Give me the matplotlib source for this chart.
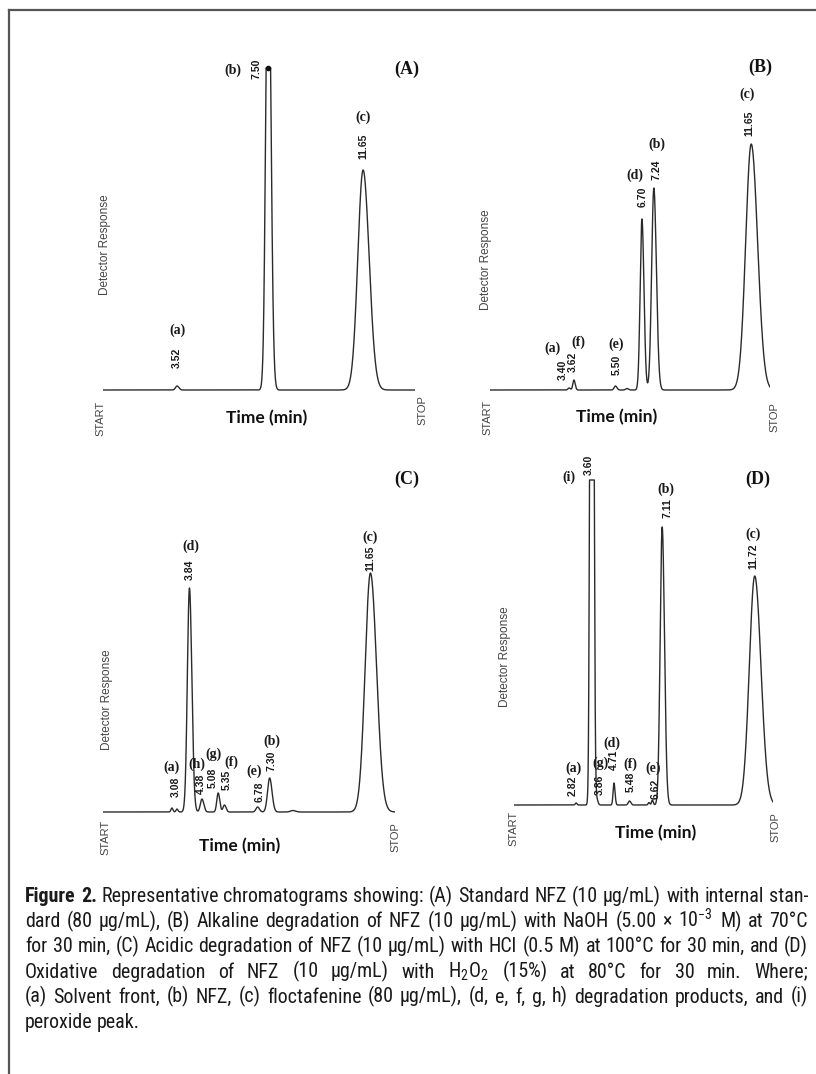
import numpy as np
import matplotlib.pyplot as plt
from matplotlib import font_manager
from matplotlib.lines import Line2D

W_PX, H_PX = 816, 1074

# peak tables
# retention time (min), peak height (detector units), peak width sigma (min)
A_rt = [3.52, 7.50, 11.65]
A_height = [4, 500, 220]
A_sigma = [0.07, 0.10, 0.23]
A_peak = ['(a)', '(b)', '(c)']

B_rt = [3.40, 3.62, 5.50, 6.02, 6.70, 7.24, 11.65]
B_height = [2, 10, 4, 1.5, 171, 202, 246]
B_sigma = [0.05, 0.05, 0.06, 0.06, 0.08, 0.10, 0.25]
B_peak = ['(a)', '(f)', '(e)', '', '(d)', '(b)', '(c)']

C_rt = [3.08, 3.30, 3.84, 4.38, 5.08, 5.35, 6.78, 7.30, 8.30, 11.65]
C_height = [4, 3, 224, 13, 19, 7, 5, 34, 1.5, 239]
C_sigma = [0.04, 0.04, 0.09, 0.07, 0.06, 0.06, 0.07, 0.09, 0.10, 0.23]
C_peak = ['(a)', '', '(d)', '(h)', '(g)', '(f)', '(e)', '(b)', '', '(c)']

D_rt = [2.82, 3.60, 3.86, 4.71, 5.48, 6.45, 6.62, 7.11, 11.72]
D_height = [2, 1500, 5, 22, 4, 2.5, 5, 278, 229]
D_sigma = [0.04, 0.065, 0.05, 0.045, 0.06, 0.04, 0.04, 0.10, 0.27]
D_peak = ['(a)', '(i)', '(g)', '(d)', '(f)', '', '(e)', '(b)', '(c)']

# detector saturation level (flat tops), None = not saturated
A_sat, B_sat, C_sat, D_sat = 322, None, None, 325

# label offsets in pixels from each labelled peak top: (num dx, num dy, letter dx, letter dy)
A_off = [(0, 28, 0, 56), (-12, -1, -35, -2), (0, 24, 0, 53)]
B_off = [(-6, 18, -17, 40), (-1, 18, 4, 38), (1, 21, 1, 42), (1, 22, -7, 44),
         (3, 18, 3, 44), (-2, 21, -4, 50)]
C_off = [(4, 21, 0, 41), (0, 18, 1, 42), (-1, 15, -5, 35), (-5, 15, -5, 39),
         (2, 25, 7, 43), (2, 15, -3, 36), (2, 17, 2, 37), (0, 15, 0, 36)]
D_off = [(-3, 17, -3, 35), (-3, 15, -23, 3), (3, 12, 4, 33), (0, 23, -2, 40),
         (1, 19, 1, 37), (3, 11, 1, 32), (5, 19, 4, 38), (-1.5, 20, -1.5, 42)]

caption_lines = [
    "Figure 2. Representative chromatograms showing: (A) Standard NFZ (10 µg/mL) with internal stan-",
    "dard (80 µg/mL), (B) Alkaline degradation of NFZ (10 µg/mL) with NaOH (5.00 × 10$^{-3}$ M) at 70°C",
    "for 30 min, (C) Acidic degradation of NFZ (10 µg/mL) with HCl (0.5 M) at 100°C for 30 min, and (D)",
    "Oxidative degradation of NFZ (10 µg/mL) with H$_2$O$_2$ (15%) at 80°C for 30 min. Where;",
    "(a) Solvent front, (b) NFZ, (c) floctafenine (80 µg/mL), (d, e, f, g, h) degradation products, and (i)",
    "peroxide peak.",
]

names = {f.name for f in font_manager.fontManager.ttflist}
cap_font = next((f for f in ['Liberation Sans Narrow', 'Roboto Condensed', 'Open Sans Condensed', 'Noto Sans']
                 if f in names), 'DejaVu Sans')
plt.rcParams['mathtext.fontset'] = 'custom'
plt.rcParams['mathtext.rm'] = cap_font
plt.rcParams['mathtext.default'] = 'rm'

fig = plt.figure(figsize=(W_PX / 100, H_PX / 100), dpi=100)


def fx(px):
    return px / W_PX


def fy(py):
    return 1 - py / H_PX


def trace(t, rt, height, sigma, sat):
    y = np.zeros_like(t)
    for r, h, s in zip(rt, height, sigma):
        sd = np.where(t < r, s, s * 1.15)
        y += h * np.exp(-0.5 * ((t - r) / sd) ** 2)
    if sat is not None:
        y = np.minimum(y, sat)
    return y


# panel: data, saturation, label offsets, left px, right px, baseline px, time limits
panels = [
    (A_rt, A_height, A_sigma, A_peak, A_sat, A_off, 103, 415, 390, (0.28, 13.92), '(A)'),
    (B_rt, B_height, B_sigma, B_peak, B_sat, B_off, 490, 770, 390, (-0.18, 12.50), '(B)'),
    (C_rt, C_height, C_sigma, C_peak, C_sat, C_off, 103, 395, 812, (0.11, 12.71), '(C)'),
    (D_rt, D_height, D_sigma, D_peak, D_sat, D_off, 514, 773, 805, (-0.27, 12.63), '(D)'),
]
ytop = 340
ybot = -6

for rt, hgt, sig, lab, sat, off, left, right, base, xl, name in panels:
    ax = fig.add_axes([fx(left), fy(base - ybot), fx(right) - fx(left), (ytop - ybot) / H_PX])
    t = np.linspace(xl[0], xl[1], 4000)
    y = trace(t, rt, hgt, sig, sat)
    ax.plot(t, y, color='#2b2b2b', lw=1.0)
    ax.set_xlim(xl)
    ax.set_ylim(ybot, ytop)
    ax.axis('off')
    if sat is not None and name == '(A)':
        k = int(np.argmax(hgt))
        ax.plot(rt[k], sat, 'o', color='#111', ms=3)
    tops = trace(np.array(rt, dtype=float), rt, hgt, sig, sat)
    j = 0
    for r, top, l in zip(rt, tops, lab):
        if not l:
            continue
        ndx, ndy, ldx, ldy = off[j]
        j += 1
        ax.annotate(f"{r:.2f}", xy=(r, top), xytext=(ndx, ndy), textcoords='offset pixels',
                    rotation=90, ha='center', va='center', fontsize=7.5,
                    family='Liberation Sans', weight='bold', color='#1a1a1a')
        ax.annotate(l, xy=(r, top), xytext=(ldx, ldy), textcoords='offset pixels',
                    ha='center', va='center', fontsize=10,
                    family='Liberation Serif', weight='bold', color='#1a1a1a')

# axis texts of each chromatogram, in pixel positions
side_text = [
    # Detector Response, START, Time, STOP, panel letter
    ((105, 245), (100, 418), (267, 418), (422, 410), (407, 69), '(A)'),
    ((486, 260), (487, 417), (617, 417), (774, 417), (760, 67), '(B)'),
    ((107, 700), (105, 837), (240, 846), (395, 837), (407, 479), '(C)'),
    ((505, 657), (513, 828), (656, 833), (775, 827), (758, 479), '(D)'),
]
for det, st, tm, sp, pl, name in side_text:
    fig.text(fx(det[0]), fy(det[1]), 'Detector Response', rotation=90, ha='center', va='center',
             fontsize=8.5, family='Liberation Sans', color='#444444')
    fig.text(fx(st[0]), fy(st[1]), 'START', rotation=90, ha='center', va='center',
             fontsize=8, family='Liberation Sans', color='#444444')
    fig.text(fx(sp[0]), fy(sp[1]), 'STOP', rotation=90, ha='center', va='center',
             fontsize=8, family='Liberation Sans', color='#444444')
    fig.text(fx(tm[0]), fy(tm[1]), 'Time (min)', ha='center', va='center',
             fontsize=12.5, family='Lato', weight='bold', color='#111111')
    fig.text(fx(pl[0]), fy(pl[1]), name, ha='center', va='center',
             fontsize=13, family='Liberation Serif', weight='bold', color='#111111')

# frame on the left and top
fig.add_artist(Line2D([fx(9), fx(9)], [0, fy(10)], transform=fig.transFigure, color='#555', lw=1.6))
fig.add_artist(Line2D([fx(9), 1], [fy(10), fy(10)], transform=fig.transFigure, color='#555', lw=1.6))

# justified caption
renderer = fig.canvas.get_renderer()


def text_w(s, size, weight='normal'):
    tt = fig.text(0, 0, s, fontsize=size, family=cap_font, weight=weight)
    w = tt.get_window_extent(renderer).width
    tt.remove()
    return w


cap_left, cap_right = 25, 808
cap_w = cap_right - cap_left
base_size = 10
sp_w = text_w('x x', base_size) - text_w('xx', base_size)
line_words = []
for i, line in enumerate(caption_lines):
    words = line.split(' ')
    weights = ['bold' if (i == 0 and k < 2) else 'normal' for k in range(len(words))]
    widths = [text_w(w, base_size, wt) for w, wt in zip(words, weights)]
    line_words.append((words, weights, widths))
natural = [sum(ws) + sp_w * (len(ws) - 1) for _, _, ws in line_words]
cap_size = base_size * 0.99 * cap_w / max(natural)
scale = cap_size / base_size

baseline0, line_gap = 902, 25.2
for i, (words, weights, widths) in enumerate(line_words):
    widths = [w * scale for w in widths]
    if i < len(line_words) - 1:
        gap = (cap_w - sum(widths)) / (len(words) - 1)
    else:
        gap = sp_w * scale
    x = cap_left
    for w, wt, ww in zip(words, weights, widths):
        fig.text(fx(x), fy(baseline0 + i * line_gap), w, fontsize=cap_size, family=cap_font,
                 weight=wt, ha='left', va='baseline', color='#1a1a1a')
        x += ww + gap

fig.savefig('out.png', dpi=100, facecolor='white')
